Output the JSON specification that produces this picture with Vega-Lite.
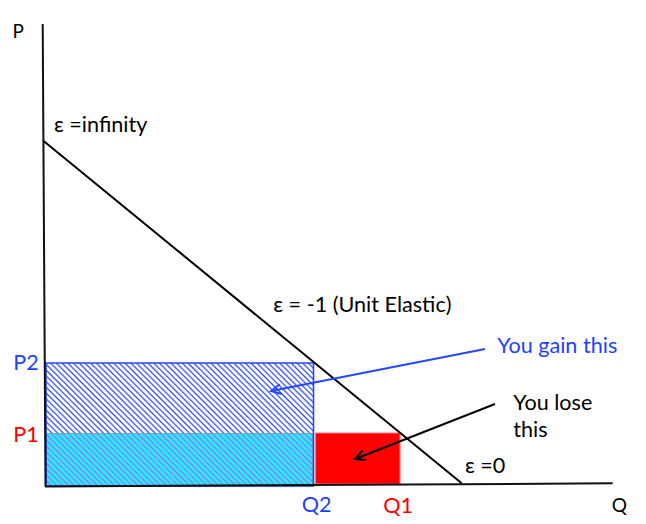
{
  "$schema": "https://vega.github.io/schema/vega-lite/v6.json",
  "width": 646,
  "height": 524,
  "autosize": {"type": "none"},
  "padding": 0,
  "config": {"view": {"stroke": null}, "text": {"font": "Lato"}},
  "encoding": {
    "x": {"field": "q", "type": "quantitative", "scale": {"domain": [-45, 601], "nice": false, "zero": false}, "axis": null},
    "y": {"field": "p", "type": "quantitative", "scale": {"domain": [-37, 487], "nice": false, "zero": false}, "axis": null}
  },
  "layer": [
    {
      "data": {"values": [{"q": 1, "p": 1, "q2": 268, "p2": 54}]},
      "mark": {"type": "rect", "stroke": "#7f9f9f", "strokeWidth": 1.5,
        "fill": {"gradient": "linear", "x1": 0, "y1": 1, "x2": 1.1531, "y2": 0.7711, "stops": [
{"offset":0,"color":"#f040f0"},{"offset":0.005,"color":"#0ff"},{"offset":0.013,"color":"#0ff"},
{"offset":0.018,"color":"#f040f0"},{"offset":0.023,"color":"#0ff"},{"offset":0.031,"color":"#0ff"},
{"offset":0.036,"color":"#f040f0"},{"offset":0.041,"color":"#0ff"},{"offset":0.049,"color":"#0ff"},
{"offset":0.054,"color":"#f040f0"},{"offset":0.059,"color":"#0ff"},{"offset":0.067,"color":"#0ff"},
{"offset":0.072,"color":"#f040f0"},{"offset":0.077,"color":"#0ff"},{"offset":0.085,"color":"#0ff"},
{"offset":0.09,"color":"#f040f0"},{"offset":0.095,"color":"#0ff"},{"offset":0.103,"color":"#0ff"},
{"offset":0.108,"color":"#f040f0"},{"offset":0.113,"color":"#0ff"},{"offset":0.121,"color":"#0ff"},
{"offset":0.126,"color":"#f040f0"},{"offset":0.131,"color":"#0ff"},{"offset":0.139,"color":"#0ff"},
{"offset":0.144,"color":"#f040f0"},{"offset":0.149,"color":"#0ff"},{"offset":0.157,"color":"#0ff"},
{"offset":0.162,"color":"#f040f0"},{"offset":0.167,"color":"#0ff"},{"offset":0.175,"color":"#0ff"},
{"offset":0.18,"color":"#f040f0"},{"offset":0.185,"color":"#0ff"},{"offset":0.193,"color":"#0ff"},
{"offset":0.198,"color":"#f040f0"},{"offset":0.203,"color":"#0ff"},{"offset":0.211,"color":"#0ff"},
{"offset":0.216,"color":"#f040f0"},{"offset":0.221,"color":"#0ff"},{"offset":0.229,"color":"#0ff"},
{"offset":0.234,"color":"#f040f0"},{"offset":0.239,"color":"#0ff"},{"offset":0.247,"color":"#0ff"},
{"offset":0.252,"color":"#f040f0"},{"offset":0.257,"color":"#0ff"},{"offset":0.265,"color":"#0ff"},
{"offset":0.27,"color":"#f040f0"},{"offset":0.275,"color":"#0ff"},{"offset":0.283,"color":"#0ff"},
{"offset":0.288,"color":"#f040f0"},{"offset":0.293,"color":"#0ff"},{"offset":0.301,"color":"#0ff"},
{"offset":0.306,"color":"#f040f0"},{"offset":0.311,"color":"#0ff"},{"offset":0.319,"color":"#0ff"},
{"offset":0.324,"color":"#f040f0"},{"offset":0.329,"color":"#0ff"},{"offset":0.337,"color":"#0ff"},
{"offset":0.342,"color":"#f040f0"},{"offset":0.347,"color":"#0ff"},{"offset":0.355,"color":"#0ff"},
{"offset":0.36,"color":"#f040f0"},{"offset":0.365,"color":"#0ff"},{"offset":0.373,"color":"#0ff"},
{"offset":0.378,"color":"#f040f0"},{"offset":0.383,"color":"#0ff"},{"offset":0.391,"color":"#0ff"},
{"offset":0.396,"color":"#f040f0"},{"offset":0.401,"color":"#0ff"},{"offset":0.409,"color":"#0ff"},
{"offset":0.414,"color":"#f040f0"},{"offset":0.419,"color":"#0ff"},{"offset":0.427,"color":"#0ff"},
{"offset":0.432,"color":"#f040f0"},{"offset":0.437,"color":"#0ff"},{"offset":0.445,"color":"#0ff"},
{"offset":0.45,"color":"#f040f0"},{"offset":0.455,"color":"#0ff"},{"offset":0.463,"color":"#0ff"},
{"offset":0.468,"color":"#f040f0"},{"offset":0.473,"color":"#0ff"},{"offset":0.481,"color":"#0ff"},
{"offset":0.486,"color":"#f040f0"},{"offset":0.491,"color":"#0ff"},{"offset":0.499,"color":"#0ff"},
{"offset":0.504,"color":"#f040f0"},{"offset":0.509,"color":"#0ff"},{"offset":0.517,"color":"#0ff"},
{"offset":0.522,"color":"#f040f0"},{"offset":0.527,"color":"#0ff"},{"offset":0.535,"color":"#0ff"},
{"offset":0.54,"color":"#f040f0"},{"offset":0.545,"color":"#0ff"},{"offset":0.553,"color":"#0ff"},
{"offset":0.558,"color":"#f040f0"},{"offset":0.563,"color":"#0ff"},{"offset":0.571,"color":"#0ff"},
{"offset":0.576,"color":"#f040f0"},{"offset":0.581,"color":"#0ff"},{"offset":0.589,"color":"#0ff"},
{"offset":0.594,"color":"#f040f0"},{"offset":0.599,"color":"#0ff"},{"offset":0.607,"color":"#0ff"},
{"offset":0.612,"color":"#f040f0"},{"offset":0.617,"color":"#0ff"},{"offset":0.625,"color":"#0ff"},
{"offset":0.63,"color":"#f040f0"},{"offset":0.635,"color":"#0ff"},{"offset":0.643,"color":"#0ff"},
{"offset":0.648,"color":"#f040f0"},{"offset":0.653,"color":"#0ff"},{"offset":0.661,"color":"#0ff"},
{"offset":0.666,"color":"#f040f0"},{"offset":0.671,"color":"#0ff"},{"offset":0.679,"color":"#0ff"},
{"offset":0.684,"color":"#f040f0"},{"offset":0.689,"color":"#0ff"},{"offset":0.697,"color":"#0ff"},
{"offset":0.702,"color":"#f040f0"},{"offset":0.707,"color":"#0ff"},{"offset":0.715,"color":"#0ff"},
{"offset":0.72,"color":"#f040f0"},{"offset":0.725,"color":"#0ff"},{"offset":0.733,"color":"#0ff"},
{"offset":0.738,"color":"#f040f0"},{"offset":0.743,"color":"#0ff"},{"offset":0.751,"color":"#0ff"},
{"offset":0.756,"color":"#f040f0"},{"offset":0.761,"color":"#0ff"},{"offset":0.769,"color":"#0ff"},
{"offset":0.774,"color":"#f040f0"},{"offset":0.779,"color":"#0ff"},{"offset":0.787,"color":"#0ff"},
{"offset":0.792,"color":"#f040f0"},{"offset":0.797,"color":"#0ff"},{"offset":0.805,"color":"#0ff"},
{"offset":0.81,"color":"#f040f0"},{"offset":0.815,"color":"#0ff"},{"offset":0.823,"color":"#0ff"},
{"offset":0.828,"color":"#f040f0"},{"offset":0.833,"color":"#0ff"},{"offset":0.841,"color":"#0ff"},
{"offset":0.846,"color":"#f040f0"},{"offset":0.851,"color":"#0ff"},{"offset":0.859,"color":"#0ff"},
{"offset":0.864,"color":"#f040f0"},{"offset":0.869,"color":"#0ff"},{"offset":0.877,"color":"#0ff"},
{"offset":0.882,"color":"#f040f0"},{"offset":0.887,"color":"#0ff"},{"offset":0.895,"color":"#0ff"},
{"offset":0.9,"color":"#f040f0"},{"offset":0.905,"color":"#0ff"},{"offset":0.913,"color":"#0ff"},
{"offset":0.918,"color":"#f040f0"},{"offset":0.923,"color":"#0ff"},{"offset":0.931,"color":"#0ff"},
{"offset":0.936,"color":"#f040f0"},{"offset":0.941,"color":"#0ff"},{"offset":0.949,"color":"#0ff"},
{"offset":0.954,"color":"#f040f0"},{"offset":0.959,"color":"#0ff"},{"offset":0.967,"color":"#0ff"},
{"offset":0.972,"color":"#f040f0"},{"offset":0.977,"color":"#0ff"},{"offset":0.985,"color":"#0ff"},
{"offset":0.99,"color":"#f040f0"},{"offset":0.995,"color":"#0ff"},{"offset":1,"color":"#0ff"}
        ]}},
      "encoding": {"x2": {"field": "q2"}, "y2": {"field": "p2"}}
    },
    {
      "data": {"values": [{"q": 1, "p": 54, "q2": 268, "p2": 124}]},
      "mark": {"type": "rect",
        "fill": {"gradient": "linear", "x1": 0, "y1": 1, "x2": 1.181, "y2": 0.6904, "stops": [
{"offset":0,"color":"#2a46ff"},{"offset":0.005,"color":"#fff"},{"offset":0.012,"color":"#fff"},
{"offset":0.017,"color":"#2a46ff"},{"offset":0.022,"color":"#fff"},{"offset":0.029,"color":"#fff"},
{"offset":0.034,"color":"#2a46ff"},{"offset":0.039,"color":"#fff"},{"offset":0.046,"color":"#fff"},
{"offset":0.051,"color":"#2a46ff"},{"offset":0.056,"color":"#fff"},{"offset":0.063,"color":"#fff"},
{"offset":0.068,"color":"#2a46ff"},{"offset":0.073,"color":"#fff"},{"offset":0.08,"color":"#fff"},
{"offset":0.085,"color":"#2a46ff"},{"offset":0.09,"color":"#fff"},{"offset":0.097,"color":"#fff"},
{"offset":0.102,"color":"#2a46ff"},{"offset":0.107,"color":"#fff"},{"offset":0.114,"color":"#fff"},
{"offset":0.119,"color":"#2a46ff"},{"offset":0.124,"color":"#fff"},{"offset":0.131,"color":"#fff"},
{"offset":0.136,"color":"#2a46ff"},{"offset":0.141,"color":"#fff"},{"offset":0.148,"color":"#fff"},
{"offset":0.153,"color":"#2a46ff"},{"offset":0.158,"color":"#fff"},{"offset":0.165,"color":"#fff"},
{"offset":0.17,"color":"#2a46ff"},{"offset":0.175,"color":"#fff"},{"offset":0.182,"color":"#fff"},
{"offset":0.187,"color":"#2a46ff"},{"offset":0.192,"color":"#fff"},{"offset":0.199,"color":"#fff"},
{"offset":0.204,"color":"#2a46ff"},{"offset":0.209,"color":"#fff"},{"offset":0.216,"color":"#fff"},
{"offset":0.221,"color":"#2a46ff"},{"offset":0.226,"color":"#fff"},{"offset":0.233,"color":"#fff"},
{"offset":0.238,"color":"#2a46ff"},{"offset":0.243,"color":"#fff"},{"offset":0.25,"color":"#fff"},
{"offset":0.255,"color":"#2a46ff"},{"offset":0.26,"color":"#fff"},{"offset":0.267,"color":"#fff"},
{"offset":0.272,"color":"#2a46ff"},{"offset":0.277,"color":"#fff"},{"offset":0.284,"color":"#fff"},
{"offset":0.289,"color":"#2a46ff"},{"offset":0.294,"color":"#fff"},{"offset":0.301,"color":"#fff"},
{"offset":0.306,"color":"#2a46ff"},{"offset":0.311,"color":"#fff"},{"offset":0.318,"color":"#fff"},
{"offset":0.323,"color":"#2a46ff"},{"offset":0.328,"color":"#fff"},{"offset":0.335,"color":"#fff"},
{"offset":0.34,"color":"#2a46ff"},{"offset":0.345,"color":"#fff"},{"offset":0.352,"color":"#fff"},
{"offset":0.357,"color":"#2a46ff"},{"offset":0.362,"color":"#fff"},{"offset":0.369,"color":"#fff"},
{"offset":0.374,"color":"#2a46ff"},{"offset":0.379,"color":"#fff"},{"offset":0.386,"color":"#fff"},
{"offset":0.391,"color":"#2a46ff"},{"offset":0.396,"color":"#fff"},{"offset":0.403,"color":"#fff"},
{"offset":0.408,"color":"#2a46ff"},{"offset":0.413,"color":"#fff"},{"offset":0.42,"color":"#fff"},
{"offset":0.425,"color":"#2a46ff"},{"offset":0.43,"color":"#fff"},{"offset":0.437,"color":"#fff"},
{"offset":0.442,"color":"#2a46ff"},{"offset":0.447,"color":"#fff"},{"offset":0.454,"color":"#fff"},
{"offset":0.459,"color":"#2a46ff"},{"offset":0.464,"color":"#fff"},{"offset":0.471,"color":"#fff"},
{"offset":0.476,"color":"#2a46ff"},{"offset":0.481,"color":"#fff"},{"offset":0.488,"color":"#fff"},
{"offset":0.493,"color":"#2a46ff"},{"offset":0.498,"color":"#fff"},{"offset":0.505,"color":"#fff"},
{"offset":0.51,"color":"#2a46ff"},{"offset":0.515,"color":"#fff"},{"offset":0.522,"color":"#fff"},
{"offset":0.527,"color":"#2a46ff"},{"offset":0.532,"color":"#fff"},{"offset":0.539,"color":"#fff"},
{"offset":0.544,"color":"#2a46ff"},{"offset":0.549,"color":"#fff"},{"offset":0.556,"color":"#fff"},
{"offset":0.561,"color":"#2a46ff"},{"offset":0.566,"color":"#fff"},{"offset":0.573,"color":"#fff"},
{"offset":0.578,"color":"#2a46ff"},{"offset":0.583,"color":"#fff"},{"offset":0.59,"color":"#fff"},
{"offset":0.595,"color":"#2a46ff"},{"offset":0.6,"color":"#fff"},{"offset":0.607,"color":"#fff"},
{"offset":0.612,"color":"#2a46ff"},{"offset":0.617,"color":"#fff"},{"offset":0.624,"color":"#fff"},
{"offset":0.629,"color":"#2a46ff"},{"offset":0.634,"color":"#fff"},{"offset":0.641,"color":"#fff"},
{"offset":0.646,"color":"#2a46ff"},{"offset":0.651,"color":"#fff"},{"offset":0.658,"color":"#fff"},
{"offset":0.663,"color":"#2a46ff"},{"offset":0.668,"color":"#fff"},{"offset":0.675,"color":"#fff"},
{"offset":0.68,"color":"#2a46ff"},{"offset":0.685,"color":"#fff"},{"offset":0.692,"color":"#fff"},
{"offset":0.697,"color":"#2a46ff"},{"offset":0.702,"color":"#fff"},{"offset":0.709,"color":"#fff"},
{"offset":0.714,"color":"#2a46ff"},{"offset":0.719,"color":"#fff"},{"offset":0.726,"color":"#fff"},
{"offset":0.731,"color":"#2a46ff"},{"offset":0.736,"color":"#fff"},{"offset":0.743,"color":"#fff"},
{"offset":0.748,"color":"#2a46ff"},{"offset":0.753,"color":"#fff"},{"offset":0.76,"color":"#fff"},
{"offset":0.765,"color":"#2a46ff"},{"offset":0.77,"color":"#fff"},{"offset":0.777,"color":"#fff"},
{"offset":0.782,"color":"#2a46ff"},{"offset":0.787,"color":"#fff"},{"offset":0.794,"color":"#fff"},
{"offset":0.799,"color":"#2a46ff"},{"offset":0.804,"color":"#fff"},{"offset":0.811,"color":"#fff"},
{"offset":0.816,"color":"#2a46ff"},{"offset":0.821,"color":"#fff"},{"offset":0.828,"color":"#fff"},
{"offset":0.833,"color":"#2a46ff"},{"offset":0.838,"color":"#fff"},{"offset":0.845,"color":"#fff"},
{"offset":0.85,"color":"#2a46ff"},{"offset":0.855,"color":"#fff"},{"offset":0.862,"color":"#fff"},
{"offset":0.867,"color":"#2a46ff"},{"offset":0.872,"color":"#fff"},{"offset":0.879,"color":"#fff"},
{"offset":0.884,"color":"#2a46ff"},{"offset":0.889,"color":"#fff"},{"offset":0.896,"color":"#fff"},
{"offset":0.901,"color":"#2a46ff"},{"offset":0.906,"color":"#fff"},{"offset":0.913,"color":"#fff"},
{"offset":0.918,"color":"#2a46ff"},{"offset":0.923,"color":"#fff"},{"offset":0.93,"color":"#fff"},
{"offset":0.935,"color":"#2a46ff"},{"offset":0.94,"color":"#fff"},{"offset":0.947,"color":"#fff"},
{"offset":0.952,"color":"#2a46ff"},{"offset":0.957,"color":"#fff"},{"offset":0.964,"color":"#fff"},
{"offset":0.969,"color":"#2a46ff"},{"offset":0.974,"color":"#fff"},{"offset":0.981,"color":"#fff"},
{"offset":0.986,"color":"#2a46ff"},{"offset":0.991,"color":"#fff"},{"offset":0.998,"color":"#fff"}
        ]}},
      "encoding": {"x2": {"field": "q2"}, "y2": {"field": "p2"}}
    },
    {
      "data": {"values": [{"q": 270.5, "p": 3, "q2": 355, "p2": 54}]},
      "mark": {"type": "rect", "fill": "#ff0000", "stroke": "#ff7474", "strokeWidth": 1.2},
      "encoding": {"x2": {"field": "q2"}, "y2": {"field": "p2"}}
    },
    {
      "data": {"values": [{"q": 1, "p": 1, "q2": 268.5, "p2": 124}]},
      "mark": {"type": "rect", "filled": false, "stroke": "#2447ff", "strokeWidth": 1.6},
      "encoding": {"x2": {"field": "q2"}, "y2": {"field": "p2"}}
    },
    {
      "data": {"values": [
        {"q": -2.3, "p": 463, "q2": 0.5, "p2": 0.5},
        {"q": 0, "p": 0.5, "q2": 567.7, "p2": 3.7}
      ]},
      "mark": {"type": "rule", "color": "#111", "strokeWidth": 2},
      "encoding": {"x2": {"field": "q2"}, "y2": {"field": "p2"}}
    },
    {
      "data": {"values": [{"q": -1.7, "p": 346.3, "q2": 416.7, "p2": 3.7}]},
      "mark": {"type": "rule", "color": "#000", "strokeWidth": 2},
      "encoding": {"x2": {"field": "q2"}, "y2": {"field": "p2"}}
    },
    {
      "data": {"values": [{"q": 440, "p": 138, "q2": 226, "p2": 96}]},
      "mark": {"type": "rule", "color": "#2447ff", "strokeWidth": 2},
      "encoding": {"x2": {"field": "q2"}, "y2": {"field": "p2"}}
    },
    {
      "data": {"values": [{"q": 450, "p": 83, "q2": 310, "p2": 28}]},
      "mark": {"type": "rule", "color": "#000", "strokeWidth": 2},
      "encoding": {"x2": {"field": "q2"}, "y2": {"field": "p2"}}
    },
    {
      "data": {"values": [{"q": 226, "p": 96}]},
      "mark": {"type": "point", "shape": "M-0.5,1L0,0L0.5,1", "filled": false, "stroke": "#2447ff", "strokeWidth": 2, "size": 400, "angle": 258.9, "opacity": 1},
      "encoding": {}
    },
    {
      "data": {"values": [{"q": 310, "p": 28}]},
      "mark": {"type": "point", "shape": "M-0.5,1L0,0L0.5,1", "filled": false, "stroke": "#000", "strokeWidth": 2, "size": 400, "angle": 248.5, "opacity": 1},
      "encoding": {}
    },
    {
      "data": {"values": [
        {"q": -32.5, "p": 449, "t": "P"},
        {"q": 566.7, "p": -25, "t": "Q"}
      ]},
      "mark": {"type": "text", "align": "left", "baseline": "alphabetic", "fontSize": 19, "fill": "#000"},
      "encoding": {"text": {"field": "t"}}
    },
    {
      "data": {"values": [
        {"q": 9, "p": 355.3, "t": "ε =infinity"},
        {"q": 228.3, "p": 175, "t": "ε = -1 (Unit Elastic)"},
        {"q": 420, "p": 14.5, "t": "ε =0"},
        {"q": 468.3, "p": 77, "t": "You lose"},
        {"q": 468.3, "p": 49.7, "t": "this"}
      ]},
      "mark": {"type": "text", "align": "left", "baseline": "alphabetic", "fontSize": 21.6, "fill": "#000"},
      "encoding": {"text": {"field": "t"}}
    },
    {
      "data": {"values": [
        {"q": 452.3, "p": 134.3, "t": "You gain this"},
        {"q": -31.7, "p": 117, "t": "P2"},
        {"q": 256.7, "p": -25, "t": "Q2"}
      ]},
      "mark": {"type": "text", "align": "left", "baseline": "alphabetic", "fontSize": 21.6, "fill": "#1f3fff"},
      "encoding": {"text": {"field": "t"}}
    },
    {
      "data": {"values": [
        {"q": -31.7, "p": 45.3, "t": "P1"},
        {"q": 338.3, "p": -26, "t": "Q1"}
      ]},
      "mark": {"type": "text", "align": "left", "baseline": "alphabetic", "fontSize": 21.6, "fill": "#ff0000"},
      "encoding": {"text": {"field": "t"}}
    }
  ]
}
